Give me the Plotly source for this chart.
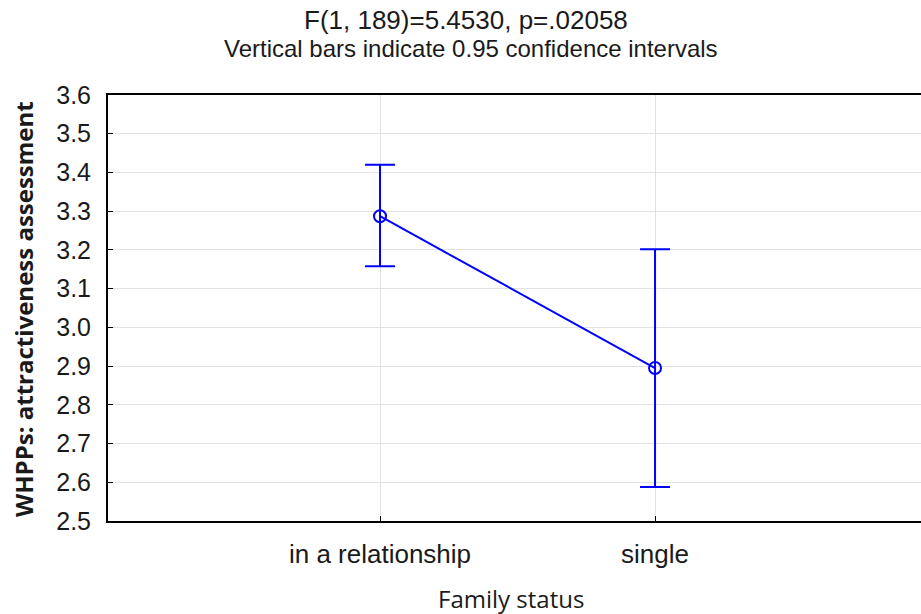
import plotly.graph_objects as go

categories = ["in a relationship", "single"]
means = [3.287, 2.895]
ci_upper = [3.420, 3.202]
ci_lower = [3.158, 2.588]
y_ticks = [2.5, 2.6, 2.7, 2.8, 2.9, 3.0, 3.1, 3.2, 3.3, 3.4, 3.5, 3.6]

err_plus = [u - m for u, m in zip(ci_upper, means)]
err_minus = [m - l for m, l in zip(means, ci_lower)]

W, H = 921, 614
ML, MR, MT, MB = 108, 0, 95, 93
PW, PH = W - ML - MR, H - MT - MB
PLOT_BOTTOM = H - MB


def px_x(page_x):
    return (page_x - ML) / PW


def px_y(page_y):
    return (PLOT_BOTTOM - page_y) / PH


fig = go.Figure()
fig.add_trace(go.Scatter(
    x=categories, y=means,
    mode="lines+markers",
    line=dict(color="#0000ff", width=2),
    marker=dict(symbol="circle-open", size=12, color="#0000ff", line=dict(width=2)),
    error_y=dict(type="data", symmetric=False, array=err_plus, arrayminus=err_minus,
                 color="#0000ff", thickness=2, width=15),
    showlegend=False,
))

fig.update_layout(
    width=W, height=H, autosize=False,
    margin=dict(l=ML, r=MR, t=MT, b=MB),
    paper_bgcolor="white", plot_bgcolor="white",
    font=dict(family="Liberation Sans, Arial, sans-serif", color="#1a1a1a", size=24),
    xaxis=dict(
        type="category", range=[-0.989, 1.967],
        showgrid=True, gridcolor="#e2e2e2", gridwidth=1,
        showline=True, linecolor="black", linewidth=2, mirror=True,
        ticks="inside", ticklen=5, tickcolor="black", tickwidth=1,
        tickfont=dict(size=26, color="#1a1a1a"), ticklabelstandoff=9,
        zeroline=False,
    ),
    yaxis=dict(
        range=[2.5, 3.6], tickvals=y_ticks, ticktext=[f"{v:.1f}" for v in y_ticks],
        showgrid=True, gridcolor="#e2e2e2", gridwidth=1,
        showline=True, linecolor="black", linewidth=2,
        ticks="inside", ticklen=5, tickcolor="black", tickwidth=1,
        tickfont=dict(size=25, color="#1a1a1a"), ticklabelstandoff=10,
        zeroline=False,
    ),
    annotations=[
        dict(text="F(1, 189)=5.4530, p=.02058", xref="paper", yref="paper",
             x=px_x(466), y=px_y(20), xanchor="center", yanchor="middle",
             showarrow=False, font=dict(size=26, color="#1a1a1a")),
        dict(text="Vertical bars indicate 0.95 confidence intervals", xref="paper", yref="paper",
             x=px_x(471), y=px_y(48), xanchor="center", yanchor="middle",
             showarrow=False, font=dict(size=24, color="#1a1a1a")),
        dict(text="Family status", xref="paper", yref="paper",
             x=px_x(511), y=px_y(598), xanchor="center", yanchor="middle",
             showarrow=False, font=dict(family="Open Sans, sans-serif", size=24, color="#1a1a1a")),
        dict(text="<b>WHPPs: attractiveness assessment</b>", xref="paper", yref="paper",
             x=px_x(23), y=px_y(309), xanchor="center", yanchor="middle", textangle=-90,
             showarrow=False, font=dict(family="Open Sans, sans-serif", size=24, color="#1a1a1a")),
    ],
)

fig.write_html("out.html", config={"displayModeBar": False},
               post_script="document.body.style.margin='0';")
